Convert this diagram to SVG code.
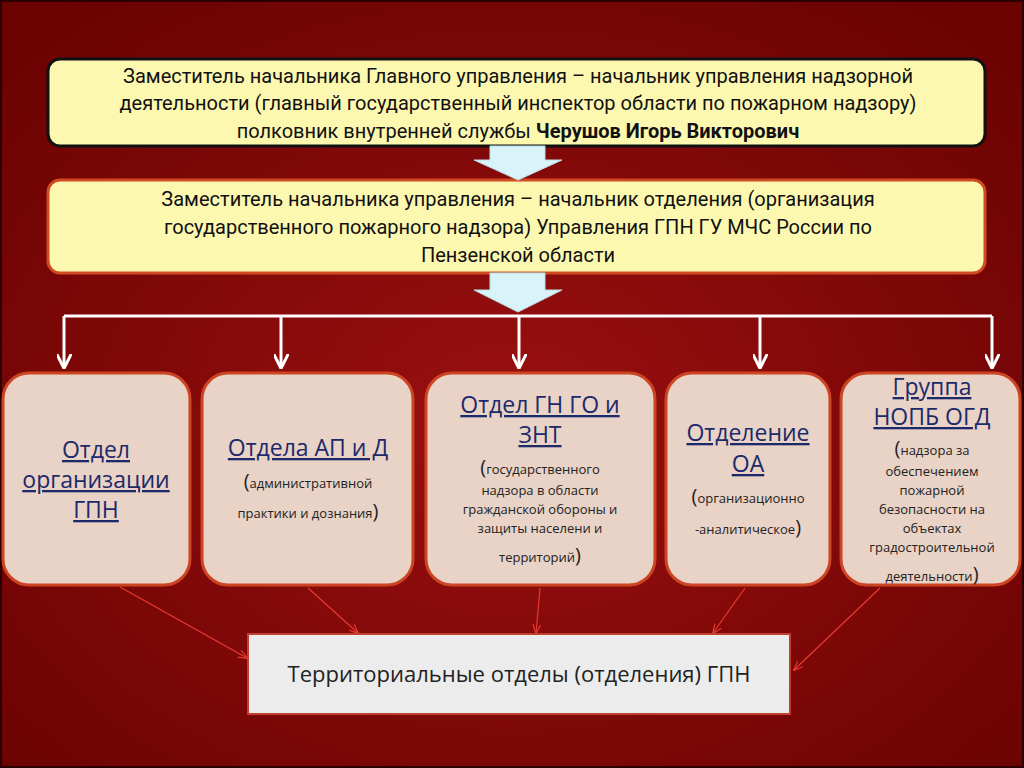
<svg xmlns="http://www.w3.org/2000/svg" width="1024" height="768" viewBox="0 0 1024 768">
<defs>
<radialGradient id="bg" cx="50%" cy="55%" r="70%"><stop offset="0" stop-color="#9a1010"/><stop offset="1" stop-color="#6a0202"/></radialGradient>
<marker id="w" viewBox="0 0 10 10" refX="9" refY="5" markerWidth="5" markerHeight="5" orient="auto"><path d="M0,0 L10,5 L0,10" fill="none" stroke="#fff" stroke-width="2"/></marker>
<marker id="r" viewBox="0 0 10 10" refX="9" refY="5" markerWidth="8" markerHeight="8" orient="auto"><path d="M0,1 L10,5 L0,9" fill="none" stroke="#e83a30" stroke-width="1.2"/></marker>
<style>
text{font-family:"Open Sans","Liberation Sans",sans-serif;text-anchor:middle}
.t{font-size:20px;fill:#111;font-family:Roboto,"Liberation Sans",sans-serif}
.h{font-size:23px;fill:#1c2a6a;text-decoration:underline}
.s{font-size:13px;fill:#222}
.p{font-size:22px;fill:#222}
.box{fill:#e9d2c6;stroke:#cc4422;stroke-width:3}
.blk{fill:#d8f4f8;stroke:#b8dce8;stroke-width:1}
</style>
</defs>
<rect width="1024" height="768" fill="url(#bg)"/>
<rect x="1" y="1" width="1022" height="766" fill="none" stroke="#2a0000" stroke-width="2"/>
<g id="n1"><rect x="48" y="59" width="937" height="87" rx="12" fill="#fdf8b0" stroke="#111" stroke-width="3"/>
<text class="t" x="518" y="83">Заместитель начальника Главного управления – начальник управления надзорной</text>
<text class="t" x="518" y="110">деятельности (главный государственный инспектор области по пожарном надзору)</text>
<text class="t" x="518" y="138">полковник внутренней службы <tspan font-weight="bold">Черушов Игорь Викторович</tspan></text></g>
<g id="n2"><rect x="48" y="180" width="937" height="93" rx="12" fill="#fdf8b0" stroke="#d04a22" stroke-width="3"/>
<text class="t" x="518" y="206">Заместитель начальника управления – начальник отделения (организация</text>
<text class="t" x="518" y="234">государственного пожарного надзора) Управления ГПН ГУ МЧС России по</text>
<text class="t" x="518" y="262">Пензенской области</text></g>
<g id="connectors">
<path class="blk" d="M490,146 H545 V160 H562 L518,180 L474,160 H490 Z"/>
<path class="blk" d="M490,273 H545 V290 H562 L518,312 L474,290 H490 Z"/>
<path d="M64,316 H992" stroke="#fff" stroke-width="3" fill="none"/>
<g stroke="#fff" stroke-width="3" marker-end="url(#w)">
<line x1="64" y1="316" x2="64" y2="367"/><line x1="281" y1="316" x2="281" y2="367"/><line x1="519" y1="316" x2="519" y2="367"/><line x1="760" y1="316" x2="760" y2="367"/><line x1="992" y1="316" x2="992" y2="367"/></g>
<g stroke="#e83a30" stroke-width="1.2" marker-end="url(#r)">
<line x1="120" y1="587" x2="247" y2="658"/><line x1="308" y1="588" x2="358" y2="633"/><line x1="540" y1="588" x2="536" y2="633"/><line x1="745" y1="588" x2="713" y2="633"/><line x1="880" y1="588" x2="794" y2="670"/></g>
</g>
<g id="b1"><rect class="box" x="3" y="373" width="187" height="212" rx="26"/>
<text class="h" x="96" y="458">Отдел</text><text class="h" x="96" y="488">организации</text><text class="h" x="96" y="518">ГПН</text></g>
<g id="b2"><rect class="box" x="202" y="373" width="211" height="212" rx="26"/>
<text class="h" x="308" y="456">Отдела АП и Д</text>
<text class="s" x="308" y="488"><tspan font-size="20">(</tspan>административной</text>
<text class="s" x="308" y="518">практики и дознания<tspan font-size="20">)</tspan></text></g>
<g id="b3"><rect class="box" x="426" y="373" width="229" height="212" rx="26"/>
<text class="h" x="540" y="413">Отдел ГН ГО и</text><text class="h" x="540" y="443">ЗНТ</text>
<text class="s" x="540" y="474"><tspan font-size="20">(</tspan>государственного</text>
<text class="s" x="540" y="495">надзора в области</text>
<text class="s" x="540" y="514">гражданской обороны и</text>
<text class="s" x="540" y="533">защиты населени и</text>
<text class="s" x="540" y="562">территорий<tspan font-size="20">)</tspan></text></g>
<g id="b4"><rect class="box" x="666" y="373" width="164" height="212" rx="26"/>
<text class="h" x="748" y="441">Отделение</text><text class="h" x="748" y="472">ОА</text>
<text class="s" x="748" y="503"><tspan font-size="20">(</tspan>организационно</text>
<text class="s" x="748" y="534">-аналитическое<tspan font-size="20">)</tspan></text></g>
<g id="b5"><rect class="box" x="841" y="373" width="179" height="212" rx="26"/>
<text class="h" x="932" y="395">Группа</text><text class="h" x="932" y="425">НОПБ ОГД</text>
<text class="s" x="932" y="455"><tspan font-size="20">(</tspan>надзора за</text>
<text class="s" x="932" y="476">обеспечением</text>
<text class="s" x="932" y="495">пожарной</text>
<text class="s" x="932" y="514">безопасности на</text>
<text class="s" x="932" y="533">объектах</text>
<text class="s" x="932" y="552">градостроительной</text>
<text class="s" x="932" y="581">деятельности<tspan font-size="20">)</tspan></text></g>
<g id="bottom"><rect x="248" y="634" width="542" height="80" fill="#ececec" stroke="#c04030" stroke-width="2"/>
<text class="p" x="519" y="682">Территориальные отделы (отделения) ГПН</text></g>
</svg>
